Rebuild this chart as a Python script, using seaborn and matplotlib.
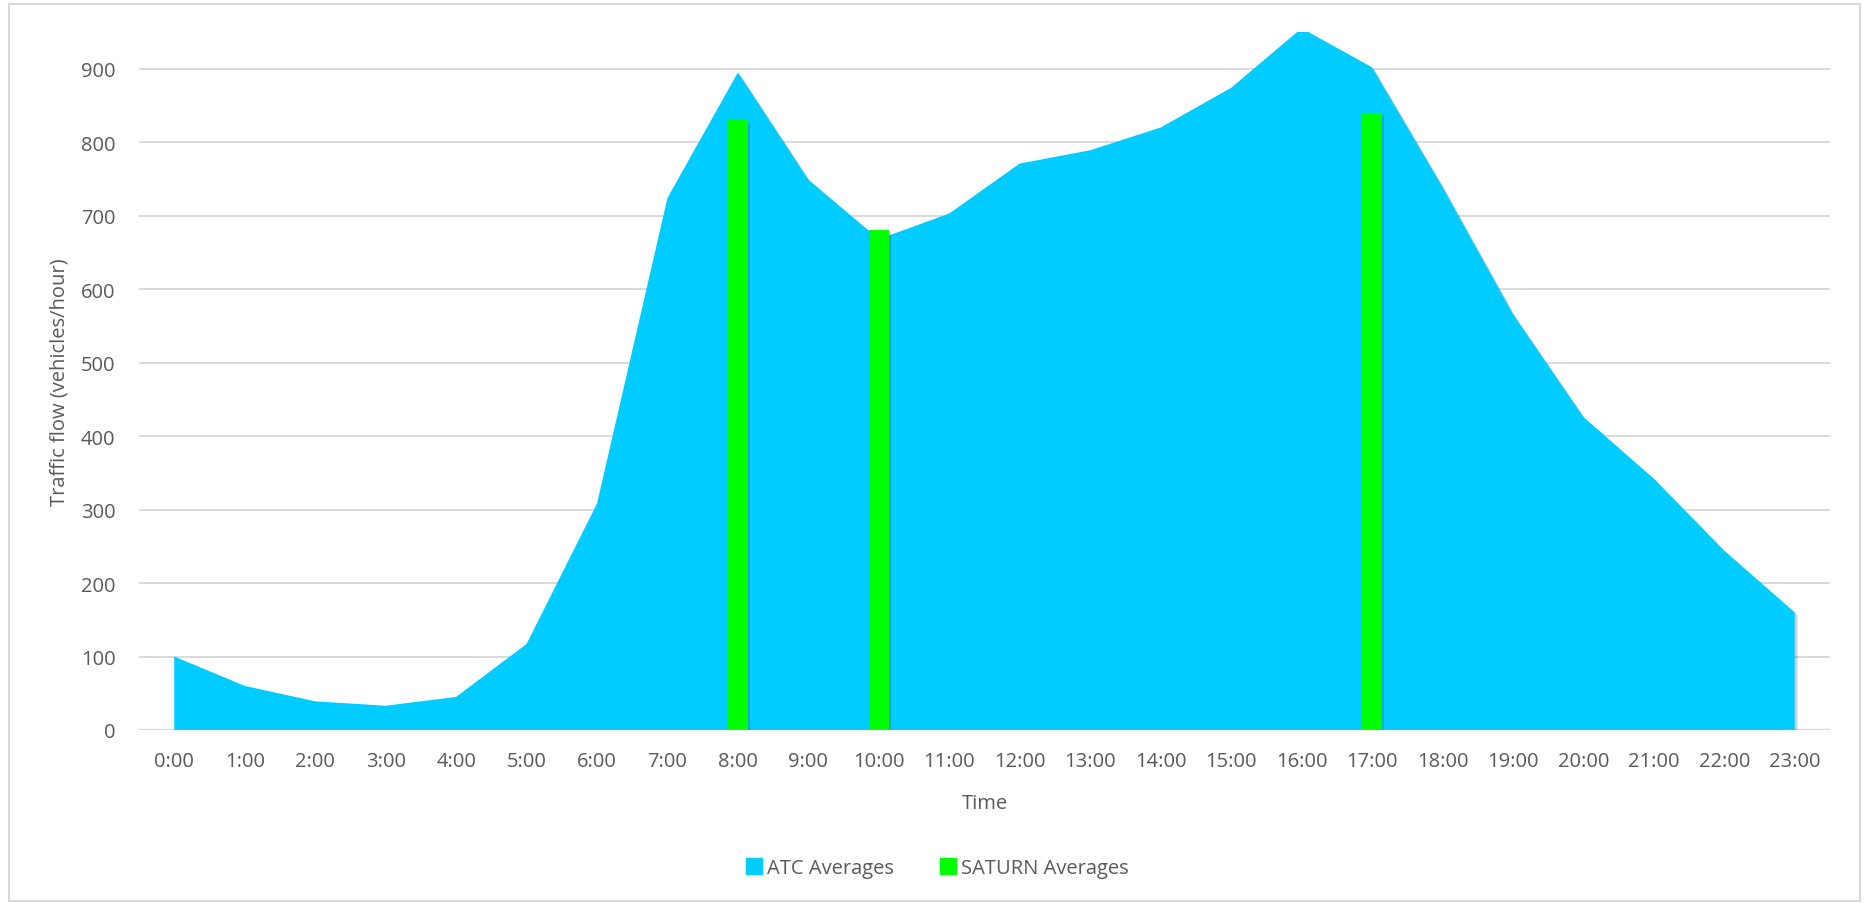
import numpy as np
import pandas as pd
import seaborn as sns
import matplotlib.pyplot as plt
from matplotlib import patheffects as pe
from matplotlib.lines import Line2D
from matplotlib.patches import Rectangle

hours = [f"{h}:00" for h in range(24)]
atc_avg = [100, 60, 39, 33, 45, 117, 308, 724, 895, 749, 668, 703,
           771, 789, 820, 874, 955, 902, 739, 566, 426, 342, 244, 160]
saturn_hours = ["8:00", "10:00", "17:00"]
saturn_avg = [830, 681, 840]

ATC_COLOR = "#00CCFF"
SATURN_COLOR = "#00FF00"
TEXT_COLOR = "#595959"
GRID_COLOR = "#D9D9D9"
FS = 14.5

sns.set_theme(style="white")
plt.rcParams["font.family"] = ["Open Sans", "DejaVu Sans"]

fig = plt.figure(figsize=(18.66, 9.04), dpi=100)
ax = fig.add_axes([0.0745, 0.1914, 0.9062, 0.7721])

x = np.arange(len(hours))
shadow = [pe.SimplePatchShadow(offset=(2, -2), shadow_rgbFace="#000000", alpha=0.18), pe.Normal()]

area = ax.fill_between(x, 0, atc_avg, color=ATC_COLOR, lw=0, zorder=2)
area.set_path_effects(shadow)

saturn_df = pd.DataFrame({"hour": saturn_hours, "flow": saturn_avg})
sns.barplot(data=saturn_df, x="hour", y="flow", order=hours, color=SATURN_COLOR,
            saturation=1, width=0.275, linewidth=0, ax=ax, zorder=3)
for bar in ax.patches:
    bar.set_path_effects(shadow)

ax.set_xlim(-0.5, len(hours) - 0.5)
ax.set_ylim(0, 950)
ax.set_yticks(range(0, 901, 100))
ax.set_xticks(x)
ax.set_xticklabels(hours)
ax.yaxis.grid(True, color=GRID_COLOR, lw=1.4, zorder=0)
ax.xaxis.grid(False)
ax.set_axisbelow(True)
for s in ax.spines.values():
    s.set_visible(False)
ax.axhline(0, color=GRID_COLOR, lw=1.6, zorder=1)

ax.tick_params(axis="both", length=0, labelsize=FS, colors=TEXT_COLOR)
ax.tick_params(axis="y", pad=17)
ax.tick_params(axis="x", pad=15)
ax.set_xlabel("Time", fontsize=FS, color=TEXT_COLOR, labelpad=16)
ax.set_ylabel("Traffic flow (vehicles/hour)", fontsize=FS, color=TEXT_COLOR, labelpad=8)

handles = [
    Line2D([], [], marker="s", linestyle="none", markersize=11, color=ATC_COLOR, label="ATC Averages"),
    Line2D([], [], marker="s", linestyle="none", markersize=11, color=SATURN_COLOR, label="SATURN Averages"),
]
fig.legend(handles=handles, loc="center", bbox_to_anchor=(0.502, 1 - 869 / 904), ncol=2,
           frameon=False, fontsize=FS, labelcolor=TEXT_COLOR, handletextpad=0.2,
           columnspacing=2.2, handlelength=0.9)

fig.patches.append(Rectangle((9 / 1866, 2 / 904), 1851 / 1866, 897 / 904, transform=fig.transFigure,
                             fill=False, edgecolor=GRID_COLOR, lw=1.5))

fig.savefig("out.png", dpi=100, facecolor="white")
